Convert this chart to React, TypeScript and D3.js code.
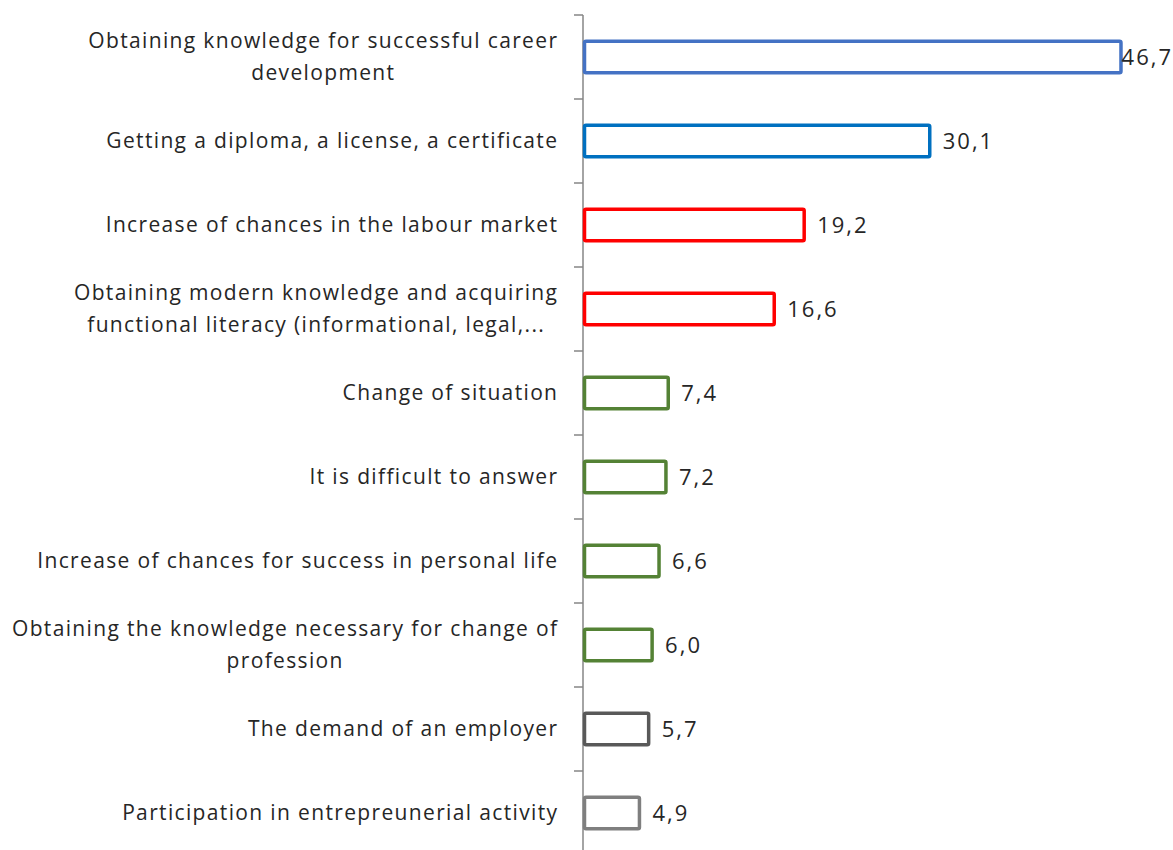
import React from "react";
import * as d3 from "d3";

const categories: string[] = [
  "Obtaining knowledge for successful career\ndevelopment",
  "Getting a diploma, a license, a certificate",
  "Increase of chances in the labour market",
  "Obtaining modern knowledge and acquiring\nfunctional literacy (informational, legal,...",
  "Change of situation",
  "It is difficult to answer",
  "Increase of chances for success in personal life",
  "Obtaining the knowledge necessary for change of\nprofession",
  "The demand of an employer",
  "Participation in entrepreunerial activity",
];
const values: number[] = [46.7, 30.1, 19.2, 16.6, 7.4, 7.2, 6.6, 6.0, 5.7, 4.9];
const colors: string[] = [
  "#4472C4", "#0070C0", "#FF0000", "#FF0000", "#548235",
  "#548235", "#548235", "#548235", "#595959", "#7F7F7F",
];

const W = 1173;
const H = 850;
const FONT = "'Open Sans', sans-serif";
const FS = 21;
const LS = 1.35;
const VFS = 22;
const VLS = 2;

let ctx: CanvasRenderingContext2D | null = null;
function measure(t: string, fs: number, ls: number): number {
  if (!ctx) ctx = document.createElement("canvas").getContext("2d");
  if (!ctx) return t.length * (fs * 0.5 + ls);
  ctx.font = `${fs}px 'Open Sans'`;
  return ctx.measureText(t).width + t.length * ls;
}

export default function App() {
  const x = d3.scaleLinear().domain([0, 50]).range([583, 1159]);
  const y = d3
    .scaleBand<string>()
    .domain(categories)
    .range([15, 855])
    .paddingInner(0.59)
    .paddingOuter(0.295);
  const step = y.step();
  const fmt = (v: number) => v.toFixed(1).replace(".", ",");
  const right = 557;

  return (
    <svg
      width={W}
      height={H}
      style={{ position: "absolute", left: 0, top: 0, background: "#fff" }}
      fontFamily={FONT}
    >
      <line x1={x(0)} x2={x(0)} y1={15} y2={855} stroke="#868686" strokeWidth={1.5} />
      {d3.range(categories.length + 1).map((i) => {
        const ty = 15 + i * step;
        return (
          <line key={"t" + i} x1={x(0) - 9} x2={x(0)} y1={ty} y2={ty} stroke="#868686" strokeWidth={1.5} />
        );
      })}
      {categories.map((c, i) => {
        const by = y(c)!;
        const bw = y.bandwidth();
        const cy = by + bw / 2;
        const lines = c.split("\n");
        const lh = 32;
        const startY = cy - ((lines.length - 1) * lh) / 2 + 7;
        const maxW = Math.max(...lines.map((l) => measure(l, FS, LS))) - LS;
        const cx = right - maxW / 2;
        const x1 = x(values[i]);
        const vt = fmt(values[i]);
        const vw = measure(vt, VFS, VLS) - VLS;
        const labelX = Math.min(x1 + 13, W - 2 - vw);
        return (
          <g key={c}>
            <rect
              x={x(0) + 1.5}
              y={by + 1.5}
              width={x1 - x(0) - 1.5}
              height={bw - 3}
              fill="#fff"
              stroke={colors[i]}
              strokeWidth={3.5}
              rx={1.5}
            />
            <text fontSize={FS} fill="#262626" letterSpacing={LS}>
              {lines.map((l, j) => {
                const lw = measure(l, FS, LS) - LS;
                return (
                  <tspan key={j} x={cx - lw / 2} y={startY + j * lh}>
                    {l}
                  </tspan>
                );
              })}
            </text>
            <text x={labelX} y={cy + 8} fontSize={VFS} fill="#262626" letterSpacing={VLS}>
              {vt}
            </text>
          </g>
        );
      })}
    </svg>
  );
}
